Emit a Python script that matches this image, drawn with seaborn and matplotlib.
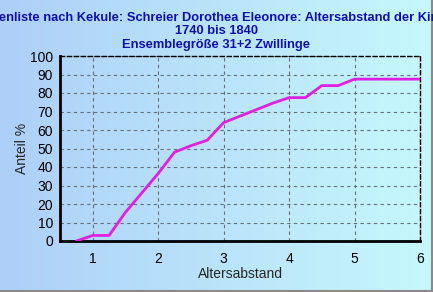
import numpy as np
import pandas as pd
import matplotlib
matplotlib.use("Agg")
import matplotlib.pyplot as plt
from matplotlib.colors import LinearSegmentedColormap
import seaborn as sns

# Data
abstand = [0.75, 1.0, 1.25, 1.5, 1.75, 2.0, 2.25, 2.5, 2.75, 3.0, 3.25, 3.5, 3.75, 4.0, 4.25, 4.5, 4.75, 5.0, 5.25, 5.5, 5.75, 6.0]
anteil = [0, 3, 3, 15.5, 26, 36.5, 48, 51.5, 54.5, 64, 67.5, 71, 74.5, 77.5, 77.5, 84, 84, 87.5, 87.5, 87.5, 87.5, 87.5]
xticks = [1, 2, 3, 4, 5, 6]
yticks = list(range(0, 101, 10))

title = ("Ahnenliste nach Kekule: Schreier Dorothea Eleonore: Altersabstand der Kinder\n"
         "1740 bis 1840\nEnsemblegröße 31+2 Zwillinge")

sns.set_style("white")
plt.rcParams['font.family'] = ['Liberation Sans', 'DejaVu Sans']

fig = plt.figure(figsize=(4.33, 2.92), dpi=100)

# background gradient
bg = fig.add_axes([0, 0, 1, 1], zorder=-10)
cmap = LinearSegmentedColormap.from_list("bg", ["#aecff8", "#c6f8fc"])
bg.imshow(np.linspace(0, 1, 256).reshape(1, -1), cmap=cmap, aspect="auto",
          extent=[0, 1, 0, 1])
bg.set_xlim(0, 1); bg.set_ylim(0, 1)
bg.axis("off")
bg.plot([0.998, 0.998], [0, 1], color="#8a8a8a", lw=1.5)
bg.plot([0, 1], [0.003, 0.003], color="#8a8a8a", lw=1.5)

ax = fig.add_axes([60/433, 51/292, 360/433, 185/292])
ax.set_facecolor("none")

df = pd.DataFrame({"Altersabstand": abstand, "Anteil": anteil})
sns.lineplot(data=df, x="Altersabstand", y="Anteil", ax=ax, color="#e020e0",
             lw=2, zorder=5)

ax.set_xlim(0.5, 6)
ax.set_ylim(0, 100)
ax.set_xticks(xticks)
ax.set_xticks([1.5, 2.5, 3.5, 4.5, 5.5], minor=True)
ax.set_yticks(yticks)
ax.grid(True, which="major", color="#65707a", ls=(0, (3, 3)), lw=0.8)
ax.tick_params(axis="both", which="major", labelsize=10, length=3, width=0.8,
               direction="out", colors="black", pad=2)
ax.tick_params(axis="x", which="minor", length=2, width=0.8)
ax.tick_params(axis="x", which="major", pad=5)

for side in ["top", "right"]:
    ax.spines[side].set_linestyle((0, (3, 2)))
    ax.spines[side].set_linewidth(1)
    ax.spines[side].set_color("black")
for side in ["left", "bottom"]:
    ax.spines[side].set_linewidth(2)
    ax.spines[side].set_color("black")

ax.set_xlabel("Altersabstand", fontsize=10, labelpad=1)
ax.set_ylabel("Anteil %", fontsize=10, labelpad=0)
ax.yaxis.set_label_coords(-31/360, 0.5)

fig.text(0.5, 1 - 12/292, title, ha="center", va="top", fontsize=9.3,
         fontweight="bold", color="#1010a8", linespacing=1.15)

fig.savefig("out.png", dpi=100)
